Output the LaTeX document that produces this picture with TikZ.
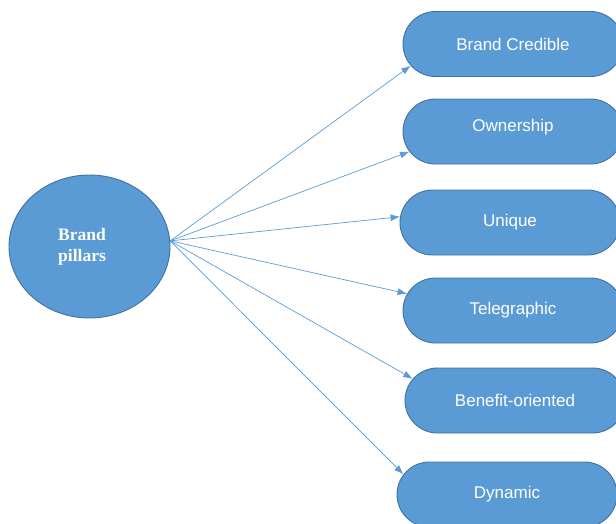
\documentclass[tikz,border=0pt]{standalone}
\usepackage{fontspec}
\setmainfont{Liberation Serif}
\newfontfamily\boxfont{Liberation Sans}
\usepackage{tikz}
\usetikzlibrary{arrows.meta,positioning,shapes.misc,shapes.geometric,calc}
\definecolor{pillarblue}{HTML}{5B9BD5}
\definecolor{pillaredge}{HTML}{41719C}
\tikzset{
  hubnode/.style  ={ellipse, draw=pillaredge, fill=pillarblue, line width=0.9pt,
                    minimum width=161pt, minimum height=143pt, inner sep=0pt},
  hubtext/.style  ={text=white, align=center, inner sep=0pt,
                    font=\fontsize{17.5}{21}\selectfont\bfseries},
  pillarbox/.style={rounded rectangle, draw=pillaredge, fill=pillarblue, line width=0.9pt,
                    minimum width=220pt, minimum height=65pt, inner sep=0pt,
                    text=white, font=\boxfont\fontsize{17}{20}\selectfont},
  pillararr/.style={-{Latex[length=9.5pt,width=7pt]}, draw=pillarblue, line width=0.7pt},
}

\begin{document}
\begin{tikzpicture}[x=1pt,y=-1pt]
  \useasboundingbox (0,0) rectangle (616,523);
  \clip (0,0) rectangle (616,523);

  % ----- centre ellipse -----
  \node[hubnode] (pillars) at (89.5,246.5) {};
  \node[hubtext] (pillarstxt) at (82,247) {Brand\\pillars};

  % ----- the six pillars -----
  \node[pillarbox] (b1) at (513,44)    {Brand Credible};
  \node[pillarbox] (b2) at (513,131.5) {\raisebox{4pt}[\height][\depth]{Ownership}};
  \node[pillarbox] (b3) at (510,222.5) {Unique};
  \node[pillarbox] (b4) at (513,310.5) {Telegraphic};
  \node[pillarbox] (b5) at (515,400.5) {Benefit-oriented};
  \node[pillarbox] (b6) at (507,494.5) {Dynamic};

  % ----- fan of arrows -----
  \coordinate (hub) at (pillars.4);
  \draw[pillararr] (hub) -- (b1.192.6);
  \draw[pillararr] (hub) -- (b2.191.6);
  \draw[pillararr] (hub) -- (b3.177.7);
  \draw[pillararr] (hub) -- (b4.171.8);
  \draw[pillararr] (hub) -- (b5.168.8);
  \draw[pillararr] (hub) -- (b6.169.4);
\end{tikzpicture}
\end{document}
